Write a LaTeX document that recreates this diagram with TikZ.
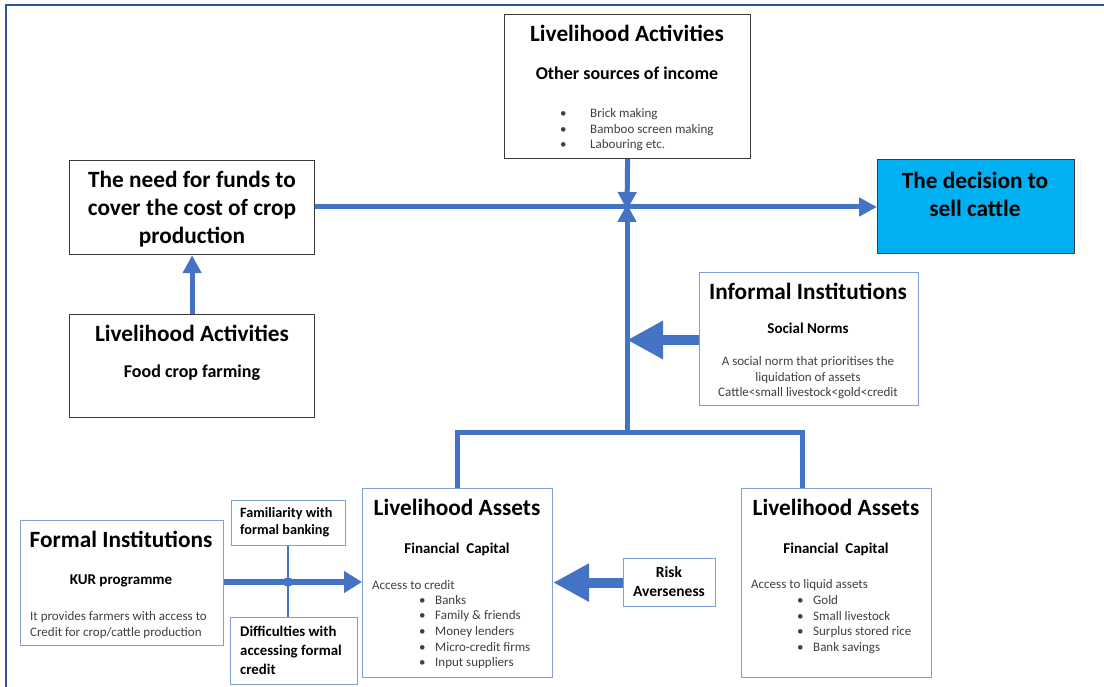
\documentclass[tikz,border=0pt]{standalone}
\usepackage{fontspec}
\setmainfont{Carlito}
\usetikzlibrary{arrows.meta}
\definecolor{arrowblue}{HTML}{4472C4}
\definecolor{framebl}{HTML}{2F5597}
\definecolor{lightedge}{HTML}{7F9FD9}
\definecolor{darkedge}{HTML}{3A3A3A}
\definecolor{bodytext}{HTML}{404040}
\definecolor{cyanfill}{HTML}{00B0F0}
\tikzset{
  box/.style={draw=darkedge, line width=1.2pt, anchor=north west, inner sep=0pt, fill=white},
  lbox/.style={draw=lightedge, line width=1.2pt, anchor=north west, inner sep=0pt, fill=white},
  title/.style={font=\bfseries\fontsize{23.3}{28}\selectfont, inner sep=0pt, align=center},
  sub/.style={font=\bfseries\fontsize{18}{22}\selectfont, inner sep=0pt, align=center},
  subsm/.style={font=\bfseries\fontsize{15}{18}\selectfont, inner sep=0pt, align=center},
  small/.style={font=\fontsize{13}{15.6}\selectfont, text=bodytext, inner sep=0pt},
  smallb/.style={font=\bfseries\fontsize{14}{19}\selectfont, inner sep=0pt, align=left},
  fatarrow/.style={draw=arrowblue, line width=5pt, -{Triangle[length=18pt,width=18pt]}},
  bigarrow/.style={draw=arrowblue, line width=10pt, -{Triangle[length=36pt,width=36pt]}},
  thinarrow/.style={draw=arrowblue, line width=2pt, -{Triangle[length=6pt,width=7pt]}},
  barline/.style={draw=arrowblue, line width=5pt},
}
\newcommand{\bul}{\makebox[30pt][l]{\textbullet}}
\newcommand{\bulb}{\makebox[16pt][l]{\textbullet}}
\begin{document}
\begin{tikzpicture}[x=1pt,y=-1pt]
\useasboundingbox (0,0) rectangle (1104,687);
% outer frame (top and left edges)
\draw[framebl, line width=2pt] (6,687) -- (6,5) -- (1104,5);

% boxes
\node[box, minimum width=246pt, minimum height=144pt] (other) at (504,14) {};
\node[box, minimum width=245pt, minimum height=94pt] (need) at (69,160) {};
\node[box, fill=cyanfill, minimum width=197pt, minimum height=94pt] (decide) at (877,159) {};
\node[box, minimum width=245pt, minimum height=103pt] (food) at (69,314) {};
\node[lbox, minimum width=219pt, minimum height=133pt] (informal) at (699,272) {};
\node[lbox, minimum width=190pt, minimum height=189pt] (credit) at (362,488) {};
\node[lbox, minimum width=190pt, minimum height=189pt] (liquid) at (741,488) {};
\node[lbox, minimum width=92pt, minimum height=48pt] (risk) at (623,558) {};
\node[lbox, minimum width=203pt, minimum height=125pt] (formal) at (20,520) {};
\node[lbox, minimum width=114pt, minimum height=45pt] (famil) at (231,500) {};
\node[lbox, minimum width=127pt, minimum height=67pt] (diffic) at (230,617) {};

% texts: other sources of income
\node[title] (otherT) at (627,33) {Livelihood Activities};
\node[sub] (otherS) at (627,73) {Other sources of income};
\node[small, anchor=west, align=left] (otherL) at (560,130)
  {\bul Brick making\\ \bul Bamboo screen making\\ \bul Labouring etc.};

% need for funds
\node[title] (needT) at (192,209) {The need for funds to\\cover the cost of crop\\production};

% decision
\node[title] (decideT) at (975,194) {The decision to\\sell cattle};

% food crop farming
\node[title] (foodT) at (192,333) {Livelihood Activities};
\node[sub] (foodS) at (192,373) {Food crop farming};

% informal institutions
\node[title] (infT) at (808,291) {Informal Institutions};
\node[subsm] (infS) at (808,328) {Social Norms};
\node[small, align=center] (infL) at (808,378)
  {A social norm that prioritises the\\liquidation of assets\\Cattle<small livestock<gold<credit};

% livelihood assets: credit
\node[title] (creditT) at (457,507) {Livelihood Assets};
\node[subsm] (creditS) at (457,549) {Financial\ \ Capital};
\node[small, anchor=west] (creditA) at (372,585) {Access to credit};
\node[small, anchor=west, align=left] (creditL) at (419,632)
  {\bulb Banks\\ \bulb Family \& friends\\ \bulb Money lenders\\ \bulb Micro-credit firms\\ \bulb Input suppliers};

% livelihood assets: liquid
\node[title] (liquidT) at (836,507) {Livelihood Assets};
\node[subsm] (liquidS) at (836,549) {Financial\ \ Capital};
\node[small, anchor=west] (liquidA) at (751,585) {Access to liquid assets};
\node[small, anchor=west, align=left] (liquidL) at (797,624.5)
  {\bulb Gold\\ \bulb Small livestock\\ \bulb Surplus stored rice\\ \bulb Bank savings};

% risk averseness
\node[smallb, font=\bfseries\fontsize{15.5}{19}\selectfont, align=center] (riskT) at (669,582) {Risk\\Averseness};

% formal institutions
\node[title] (formalT) at (121,539) {Formal Institutions};
\node[subsm] (formalS) at (121,581) {KUR programme};
\node[small, anchor=west, align=left] (formalL) at (30,625)
  {It provides farmers with access to\\Credit for crop/cattle production};

% familiarity / difficulties
\node[smallb, font=\bfseries\fontsize{14.2}{17}\selectfont, anchor=west] (familT) at (240,522) {Familiarity with\\formal banking};
\node[smallb, font=\bfseries\fontsize{14.8}{19}\selectfont, anchor=west] (difficT) at (240,650) {Difficulties with\\accessing formal\\credit};

% junction points
\coordinate (join) at (627,207);
\coordinate (barmid) at (627,432);
\coordinate (barL) at (457,432);
\coordinate (barR) at (802,432);
\coordinate (kur) at (288,582);

% connectors
\draw[fatarrow] (need.east |- join) -- (decide.west |- join);
\draw[fatarrow] (other.south) -- ([yshift=-3pt]join);
\draw[fatarrow] (barmid) -- ([yshift=3pt]join);
\draw[barline] (credit.north -| barL) -- (barL) -- (barR) -- (liquid.north -| barR);
\draw[bigarrow] (informal.west |- 0,340) -- (barmid |- 0,340);
\draw[bigarrow] (risk.west) -- (credit.east |- risk.west);
\draw[draw=arrowblue, line width=6pt, -{Triangle[length=18pt,width=21pt]}] (formal.east |- kur) -- (credit.west |- kur);
\draw[thinarrow] (famil.south -| kur) -- ([yshift=-2pt]kur);
\draw[thinarrow] (diffic.north -| kur) -- ([yshift=2pt]kur);
\draw[fatarrow] (food.north) -- (need.south);
\end{tikzpicture}
\end{document}
